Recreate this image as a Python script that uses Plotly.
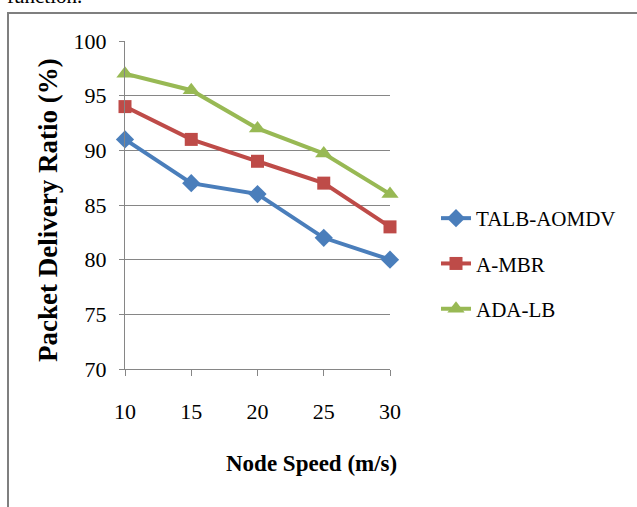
import plotly.graph_objects as go

speeds = [10, 15, 20, 25, 30]
talb = [91, 87, 86, 82, 80]
ambr = [94, 91, 89, 87, 83]
adalb = [97, 95.5, 92, 89.7, 86]
series_names = ["TALB-AOMDV", "A-MBR", "ADA-LB"]
y_ticks = [70, 75, 80, 85, 90, 95, 100]

W, H = 637, 507
L, R, T, B = 125, 390, 41, 369  # plot area pixels

def px(x):
    return (x - L) / (R - L)

def py(y):
    return (B - y) / (B - T)

serif = "Liberation Serif, Times New Roman, serif"

fig = go.Figure()
styles = [
    ("#4A7EBB", "diamond", 14),
    ("#BE4B48", "square", 13),
    ("#98B954", "triangle-up", 15),
]
for name, vals, (col, sym, sz) in zip(series_names, [talb, ambr, adalb], styles):
    fig.add_trace(go.Scatter(
        x=speeds, y=vals, name=name, legendgroup=name,
        mode="lines+markers",
        line=dict(color=col, width=4),
        marker=dict(symbol=sym, size=sz, color=col),
        cliponaxis=False,
    ))

fig.update_layout(
    width=W, height=H,
    margin=dict(l=L, r=W - R, t=T, b=H - B),
    paper_bgcolor="white", plot_bgcolor="white",
    font=dict(family=serif, color="black", size=20),
    showlegend=True,
    legend=dict(
        xref="container", yref="container",
        x=436 / W, y=1 - 198 / H, xanchor="left", yanchor="top",
        font=dict(family=serif, size=21, color="black"),
        tracegroupgap=15, bgcolor="rgba(0,0,0,0)",
    ),
)
fig.update_xaxes(
    range=[10, 30], tickvals=speeds, ticks="outside", ticklen=6,
    tickcolor="#868686", showline=True, linecolor="#868686", linewidth=1,
    showgrid=False, zeroline=False, ticklabelstandoff=17,
    tickfont=dict(family=serif, size=22),
)
fig.update_yaxes(
    range=[70, 100], tickvals=y_ticks, ticks="outside", ticklen=5,
    tickcolor="#868686", showline=True, linecolor="#868686", linewidth=1,
    showgrid=True, gridcolor="#868686", gridwidth=1, zeroline=False,
    ticklabelstandoff=8, tickfont=dict(family=serif, size=22),
)

# frame lines
fig.add_shape(type="line", xref="paper", yref="paper",
              x0=px(8), x1=px(8), y0=py(13), y1=py(520),
              line=dict(color="#7F7F7F", width=2))
fig.add_shape(type="line", xref="paper", yref="paper",
              x0=px(7), x1=px(650), y0=py(13), y1=py(13),
              line=dict(color="#7F7F7F", width=2))

fig.add_annotation(text="<b>Node Speed (m/s)</b>", xref="paper", yref="paper",
                   x=px(311), y=py(463), xanchor="center", yanchor="middle",
                   showarrow=False,
                   font=dict(family=serif, size=23, color="black"))
fig.add_annotation(text="<b>Packet Delivery Ratio (%)</b>", xref="paper", yref="paper",
                   x=px(48), y=py(210), xanchor="center", yanchor="middle",
                   showarrow=False, textangle=-90,
                   font=dict(family=serif, size=27, color="black"))
fig.add_annotation(text="function.", xref="paper", yref="paper",
                   x=px(5), y=py(10), xanchor="left", yanchor="bottom",
                   showarrow=False,
                   font=dict(family=serif, size=21, color="black"))

fig.write_html("out.html")
